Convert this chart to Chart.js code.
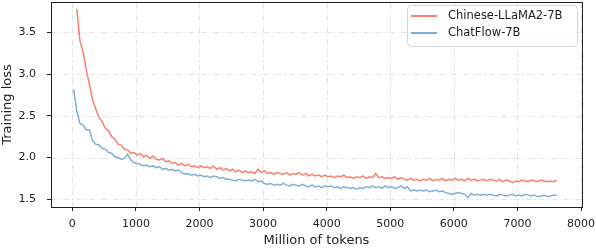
<!DOCTYPE html>
<html lang="en">
<head>
    <meta charset="UTF-8">
    <title>Training loss</title>
    <script src="https://cdn.jsdelivr.net/npm/chart.js"></script>
    <style>
        html, body { margin: 0; padding: 0; background: #fff; }
        #lossChart { display: block; }
    </style>
</head>
<body>
    <canvas id="lossChart" width="596" height="248"></canvas>

    <script>
        // million of tokens, one point every 50M
        const tokens = [];
        for (let t = 20; t <= 7620; t += 50) tokens.push(t);

        const seriesNames = ["Chinese-LLaMA2-7B", "ChatFlow-7B"];

        const llamaLoss = [
            null, 3.78, 3.40, 3.26, 3.05, 2.87, 2.69, 2.58, 2.48, 2.43,
            2.35, 2.32, 2.25, 2.22, 2.16, 2.15, 2.10, 2.09, 2.05, 2.06,
            2.03, 2.05, 2.01, 2.03, 1.99, 2.02, 1.98, 1.97, 1.99, 1.95,
            1.96, 1.93, 1.94, 1.91, 1.93, 1.90, 1.92, 1.89, 1.90, 1.88,
            1.90, 1.88, 1.89, 1.87, 1.90, 1.86, 1.88, 1.85, 1.87, 1.84,
            1.86, 1.83, 1.85, 1.82, 1.84, 1.82, 1.83, 1.81, 1.86, 1.82,
            1.84, 1.81, 1.82, 1.80, 1.82, 1.81, 1.80, 1.82, 1.79, 1.81,
            1.80, 1.82, 1.79, 1.81, 1.78, 1.80, 1.78, 1.79, 1.77, 1.79,
            1.77, 1.78, 1.76, 1.78, 1.77, 1.79, 1.76, 1.77, 1.75, 1.77,
            1.76, 1.78, 1.75, 1.77, 1.76, 1.81, 1.76, 1.77, 1.75, 1.76,
            1.75, 1.77, 1.74, 1.76, 1.74, 1.73, 1.75, 1.73, 1.74, 1.72,
            1.74, 1.73, 1.75, 1.72, 1.74, 1.73, 1.75, 1.72, 1.74, 1.73,
            1.75, 1.73, 1.74, 1.72, 1.75, 1.73, 1.74, 1.72, 1.73, 1.74,
            1.72, 1.74, 1.73, 1.72, 1.74, 1.71, 1.73, 1.72, 1.70, 1.72,
            1.71, 1.73, 1.72, 1.71, 1.73, 1.72, 1.71, 1.73, 1.72, 1.71,
            1.72, 1.71, 1.73
        ];

        const chatflowLoss = [
            2.82, 2.56, 2.41, 2.39, 2.33, 2.33, 2.20, 2.16, 2.15, 2.11,
            2.10, 2.06, 2.05, 2.01, 2.00, 1.98, 1.99, 2.04, 1.97, 1.94,
            1.93, 1.92, 1.90, 1.91, 1.89, 1.90, 1.88, 1.89, 1.86, 1.87,
            1.85, 1.86, 1.84, 1.85, 1.82, 1.80, 1.81, 1.79, 1.80, 1.78,
            1.79, 1.77, 1.78, 1.76, 1.78, 1.77, 1.75, 1.76, 1.74, 1.74,
            1.73, 1.72, 1.74, 1.73, 1.72, 1.73, 1.72, 1.74, 1.71, 1.72,
            1.69, 1.68, 1.69, 1.67, 1.68, 1.67, 1.69, 1.67, 1.66, 1.68,
            1.67, 1.66, 1.68, 1.66, 1.65, 1.67, 1.65, 1.66, 1.64, 1.66,
            1.65, 1.66, 1.64, 1.65, 1.63, 1.65, 1.64, 1.63, 1.64, 1.62,
            1.64, 1.63, 1.65, 1.64, 1.66, 1.64, 1.65, 1.63, 1.66, 1.64,
            1.65, 1.63, 1.64, 1.66, 1.63, 1.65, 1.60, 1.61, 1.60, 1.61,
            1.60, 1.61, 1.59, 1.60, 1.61, 1.59, 1.60, 1.58, 1.57, 1.56,
            1.57, 1.58, 1.57, 1.56, 1.52, 1.57, 1.55, 1.56, 1.55, 1.56,
            1.55, 1.56, 1.55, 1.54, 1.56, 1.55, 1.54, 1.55, 1.56, 1.54,
            1.55, 1.54, 1.56, 1.55, 1.54, 1.55, 1.53, 1.54, 1.55, 1.53,
            1.54, 1.55, 1.55
        ];

        const xTicks = [0, 1000, 2000, 3000, 4000, 5000, 6000, 7000, 8000];
        const yTicks = [1.5, 2.0, 2.5, 3.0, 3.5];

        const colors = ["#FA7F6F", "#7FAFD3"];
        const FONT = "'DejaVu Sans', sans-serif";

        function toPoints(values) {
            return tokens.map((t, i) => ({ x: t, y: values[i] }));
        }

        // dash-dot grid, black frame and the in-plot legend
        const decor = {
            id: "decor",
            beforeDatasetsDraw(chart) {
                const { ctx, chartArea: a, scales } = chart;
                ctx.save();
                ctx.strokeStyle = "#e3e3e3";
                ctx.lineWidth = 1;
                ctx.setLineDash([6, 2.5, 1.5, 2.5]);
                scales.x.ticks.forEach(tk => {
                    const px = Math.round(scales.x.getPixelForValue(tk.value)) + 0.5;
                    ctx.beginPath(); ctx.moveTo(px, a.top); ctx.lineTo(px, a.bottom); ctx.stroke();
                });
                scales.y.ticks.forEach(tk => {
                    const py = Math.round(scales.y.getPixelForValue(tk.value)) + 0.5;
                    ctx.beginPath(); ctx.moveTo(a.left, py); ctx.lineTo(a.right, py); ctx.stroke();
                });
                ctx.restore();
            },
            afterDatasetsDraw(chart) {
                const { ctx, chartArea: a } = chart;
                ctx.save();
                ctx.strokeStyle = "#222";
                ctx.lineWidth = 1;
                ctx.strokeRect(Math.round(a.left) + 0.5, Math.round(a.top) + 0.5,
                    Math.round(a.right - a.left), Math.round(a.bottom - a.top));

                // legend box
                const bx = 407.5, by = 5.5, bw = 170, bh = 41;
                ctx.beginPath();
                ctx.roundRect(bx, by, bw, bh, 4);
                ctx.fillStyle = "rgba(255,255,255,0.85)";
                ctx.fill();
                ctx.strokeStyle = "#d6d6d6";
                ctx.stroke();

                ctx.font = "11.5px " + FONT;
                ctx.textBaseline = "middle";
                ctx.textAlign = "left";
                chart.data.datasets.forEach((ds, i) => {
                    const y = 16 + i * 17;
                    ctx.strokeStyle = ds.borderColor;
                    ctx.lineWidth = 2;
                    ctx.beginPath(); ctx.moveTo(411, y); ctx.lineTo(437, y); ctx.stroke();
                    ctx.fillStyle = "#222";
                    ctx.fillText(ds.label, 448, y + 0.5);
                });
                ctx.restore();
            }
        };

        new Chart(document.getElementById("lossChart"), {
            type: "line",
            data: {
                datasets: [
                    { label: seriesNames[0], data: toPoints(llamaLoss), borderColor: colors[0] },
                    { label: seriesNames[1], data: toPoints(chatflowLoss), borderColor: colors[1] }
                ]
            },
            options: {
                responsive: false,
                animation: false,
                events: [],
                layout: { padding: { top: 2, right: 14, left: 0, bottom: 0 } },
                elements: {
                    line: { borderWidth: 1.5, tension: 0 },
                    point: { radius: 0 }
                },
                plugins: { legend: { display: false }, tooltip: { enabled: false } },
                scales: {
                    x: {
                        type: "linear",
                        min: -335,
                        max: 8015,
                        afterBuildTicks: s => { s.ticks = xTicks.map(v => ({ value: v })); },
                        afterFit: s => { s.height = 41; s.paddingLeft = 0; s.paddingRight = 0; },
                        grid: { drawOnChartArea: false, tickLength: 4, tickColor: "#222" },
                        border: { color: "#222" },
                        ticks: {
                            color: "#222",
                            padding: 7,
                            maxRotation: 0,
                            font: { family: FONT, size: 11 },
                            callback: v => String(v)
                        },
                        title: {
                            display: true,
                            text: "Million of tokens",
                            color: "#222",
                            padding: { top: 0, bottom: 0 },
                            font: { family: FONT, size: 13 }
                        }
                    },
                    y: {
                        min: 1.408,
                        max: 3.863,
                        afterBuildTicks: s => { s.ticks = yTicks.map(v => ({ value: v })); },
                        afterFit: s => { s.width = 51; s.paddingTop = 0; s.paddingBottom = 0; },
                        grid: { drawOnChartArea: false, tickLength: 4, tickColor: "#222" },
                        border: { color: "#222" },
                        ticks: {
                            color: "#222",
                            padding: 11,
                            font: { family: FONT, size: 11 },
                            callback: v => v.toFixed(1)
                        },
                        title: {
                            display: true,
                            text: "Training loss",
                            color: "#222",
                            padding: { top: 0, bottom: 0 },
                            font: { family: FONT, size: 13 }
                        }
                    }
                }
            },
            plugins: [decor]
        });
    </script>
</body>
</html>
